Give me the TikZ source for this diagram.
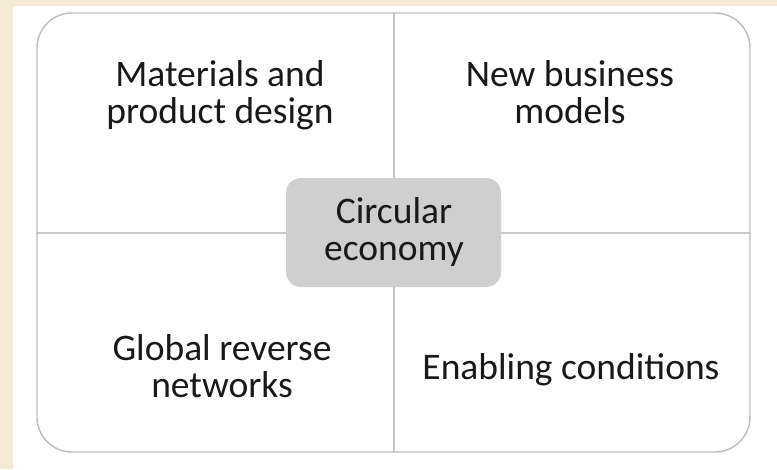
\documentclass[tikz,border=0pt]{standalone}
\usepackage{fontspec}
\setmainfont{Carlito}
\usetikzlibrary{calc}
\definecolor{paper}{HTML}{F4EAD5}
\definecolor{rim}{HTML}{BDBDBD}
\definecolor{hub}{HTML}{CFCFCF}
\tikzset{
	label text/.style={align=center, anchor=base, inner sep=0pt, text=black!90,
		font=\fontsize{37.5}{36.5}\selectfont},
	divider/.style={line width=1.3pt, color=rim!85}
}

\begin{document}
\begin{tikzpicture}[x=1pt, y=-1pt]
	%%%%% START %%%%%
	
	\useasboundingbox (0, 0) rectangle (777, 469);
	\fill[paper] (0, 0) rectangle (777, 469);
	\fill[white] (13, 6) rectangle (777, 469);
	
	\coordinate (top) at (394, 13);
	\coordinate (bottom) at (394, 452);
	\coordinate (left) at (37, 233);
	\coordinate (right) at (750, 233);
	
	\draw[divider] (top) -- (bottom);
	\draw[divider] (left) -- (right);
	\draw[line width=1.4pt, color=rim, rounded corners=35pt] (37, 13) rectangle (750, 452);
	
	\node[fill=hub, rounded corners=15pt, minimum width=215pt, minimum height=109pt]
		(hub) at (393.5, 232.5) {};
	\node[label text] (circular) at (394, 260) {Circular\\economy};
	
	% two-line labels sit on their last baseline
	\node[label text] (materials) at (220, 123) {Materials and\\product design};
	\node[label text] (business) at (570, 123) {New business\\models};
	\node[label text] (reverse) at (222, 397) {Global reverse\\networks};
	\node[label text] (enabling) at (571, 379) {Enabling conditions};
	
	%%%%% END %%%%%
\end{tikzpicture}
\end{document}
